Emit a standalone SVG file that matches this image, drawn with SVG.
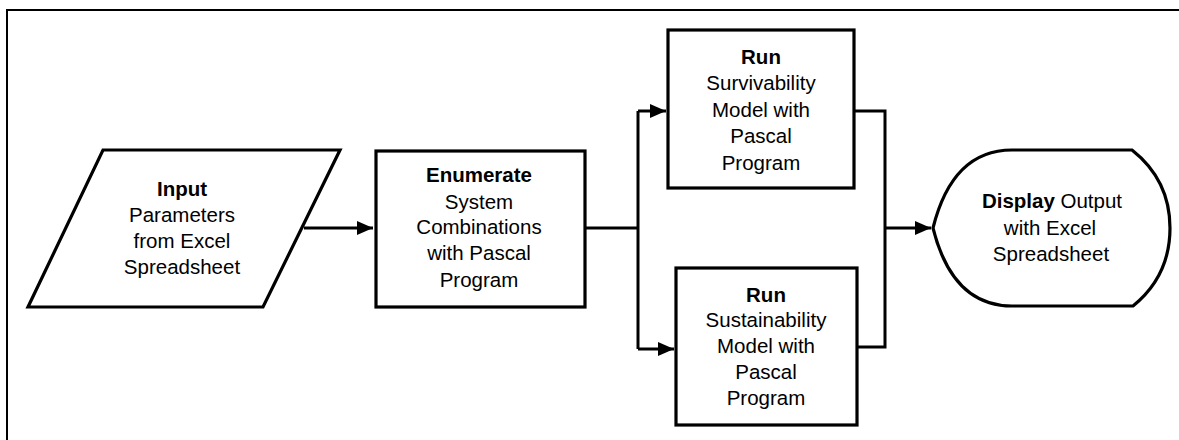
<svg xmlns="http://www.w3.org/2000/svg" width="1179" height="440" viewBox="0 0 1179 440">
<style>
.shape{fill:#fff;stroke:#000;stroke-width:3.2;stroke-linejoin:miter}
.conn{fill:none;stroke:#000;stroke-width:3}
.frame{fill:none;stroke:#000;stroke-width:2}
text{font-family:"Liberation Sans",Arial,sans-serif;font-size:20.5px;text-anchor:middle;fill:#000}
.b{font-weight:bold}
</style>
<defs>
<marker id="ah" markerUnits="userSpaceOnUse" markerWidth="17" markerHeight="15" refX="16" refY="7" orient="auto">
<path d="M0,0 L16,7 L0,14 z" fill="#000"/>
</marker>
</defs>
<path class="frame" d="M7,440 L7,10 L1179,10"/>
<g id="connectors">
<path class="conn" d="M304,228 L373,228" marker-end="url(#ah)"/>
<path class="conn" d="M585,228 L638,228"/>
<path class="conn" d="M638,111 L638,349"/>
<path class="conn" d="M638,111 L666,111" marker-end="url(#ah)"/>
<path class="conn" d="M638,349 L674,349" marker-end="url(#ah)"/>
<path class="conn" d="M854,111 L885,111 L885,347 L857,347"/>
<path class="conn" d="M885,228 L931,228" marker-end="url(#ah)"/>
</g>
<g id="input">
<polygon class="shape" points="103,150 340,150 263,307 28,307"/>
<text x="182" y="196" class="b">Input</text>
<text x="182" y="222">Parameters</text>
<text x="182" y="248">from Excel</text>
<text x="182" y="274">Spreadsheet</text>
</g>
<g id="enumerate">
<rect class="shape" x="376" y="151" width="209" height="156"/>
<text x="479" y="182" class="b">Enumerate</text>
<text x="479" y="209">System</text>
<text x="479" y="234">Combinations</text>
<text x="479" y="260">with Pascal</text>
<text x="479" y="287">Program</text>
</g>
<g id="survivability">
<rect class="shape" x="668" y="30" width="186" height="158"/>
<text x="761" y="64" class="b">Run</text>
<text x="761" y="90">Survivability</text>
<text x="761" y="117">Model with</text>
<text x="761" y="143">Pascal</text>
<text x="761" y="170">Program</text>
</g>
<g id="sustainability">
<rect class="shape" x="676" y="268" width="181" height="157"/>
<text x="766" y="302" class="b">Run</text>
<text x="766" y="327">Sustainability</text>
<text x="766" y="353">Model with</text>
<text x="766" y="379">Pascal</text>
<text x="766" y="405">Program</text>
</g>
<g id="display">
<path class="shape" d="M933,228 C945,180 970,150 1012,150 L1132,150 Q1170,180 1170,228 Q1170,276 1133,306 L1012,306 C970,306 945,276 933,228 Z"/>
<text x="1052" y="208"><tspan class="b">Display</tspan> Output</text>
<text x="1050" y="235">with Excel</text>
<text x="1051" y="261">Spreadsheet</text>
</g>
</svg>
